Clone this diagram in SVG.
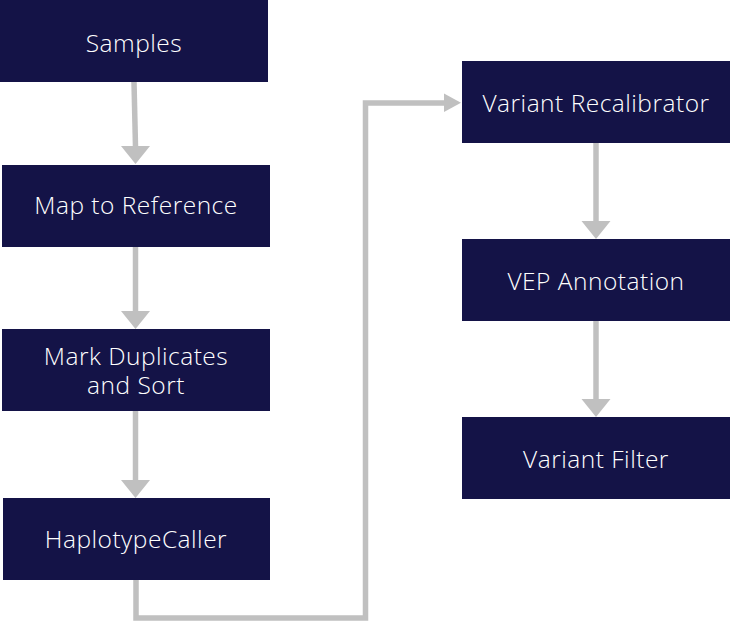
<svg xmlns="http://www.w3.org/2000/svg" width="730" height="622" viewBox="0 0 730 622">
<defs>
<style>
.box{fill:#141347;}
.lbl{fill:#ffffff;font-family:"Open Sans",Lato,"Liberation Sans",sans-serif;font-size:24.5px;font-weight:300;letter-spacing:0.5px;text-anchor:middle;}
.conn{stroke:#c0c0c0;stroke-width:5.5;fill:none;}
.head{fill:#c0c0c0;}
</style>
</defs>
<rect width="730" height="622" fill="#ffffff"/>
<g id="connectors">
<line class="conn" x1="134" y1="82" x2="135.5" y2="147"/>
<polygon class="head" points="121,146 150,146 135.5,164"/>
<line class="conn" x1="135.5" y1="247" x2="135.5" y2="312"/>
<polygon class="head" points="121,311 150,311 135.5,329"/>
<line class="conn" x1="135.5" y1="411" x2="135.5" y2="481"/>
<polygon class="head" points="121,480 150,480 135.5,498"/>
<polyline class="conn" points="136,580 136,618 365.5,618 365.5,103 445,103"/>
<polygon class="head" points="444,93.5 444,112 461,102.8"/>
<line class="conn" x1="596" y1="143" x2="596" y2="222"/>
<polygon class="head" points="581.5,221 610.5,221 596,239"/>
<line class="conn" x1="596" y1="321" x2="596" y2="400"/>
<polygon class="head" points="581.5,399 610.5,399 596,417"/>
</g>
<g id="samples"><rect class="box" x="0" y="0" width="268" height="82"/><text class="lbl" x="134" y="52">Samples</text></g>
<g id="map"><rect class="box" x="2" y="165" width="268" height="82"/><text class="lbl" x="136" y="214">Map to Reference</text></g>
<g id="markdup"><rect class="box" x="2" y="329" width="268" height="82"/><text class="lbl" x="136" y="364.5">Mark Duplicates<tspan x="136" dy="29.8">and Sort</tspan></text></g>
<g id="haplo"><rect class="box" x="3" y="498" width="267" height="82"/><text class="lbl" x="136" y="548">HaplotypeCaller</text></g>
<g id="recal"><rect class="box" x="462" y="61" width="268" height="82"/><text class="lbl" x="596" y="112">Variant Recalibrator</text></g>
<g id="vep"><rect class="box" x="462" y="239" width="268" height="82"/><text class="lbl" x="596" y="290">VEP Annotation</text></g>
<g id="filter"><rect class="box" x="462" y="417" width="268" height="82"/><text class="lbl" x="596" y="468">Variant Filter</text></g>
</svg>
